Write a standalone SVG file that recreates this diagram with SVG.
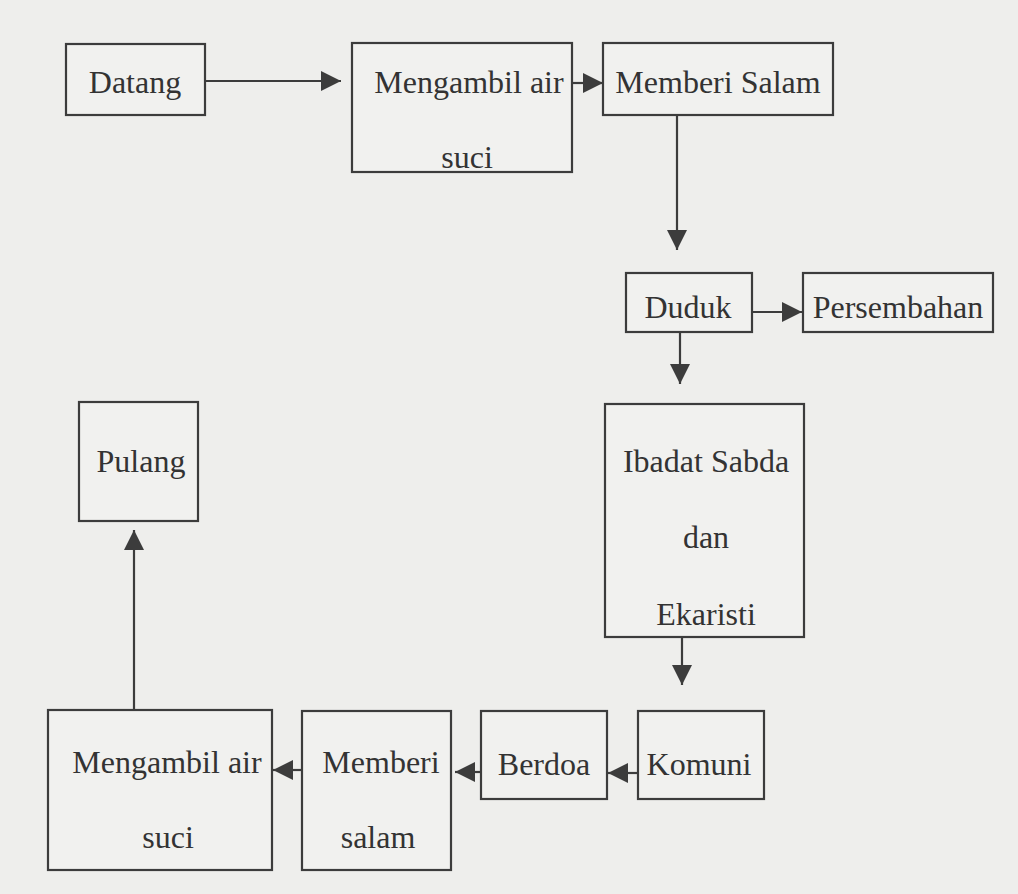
<svg xmlns="http://www.w3.org/2000/svg" width="1018" height="894" viewBox="0 0 1018 894">
<defs>
<style>
.bg{fill:#eeeeec}
.box{fill:#f1f1ef;stroke:#3c3c3c;stroke-width:2.2}
.lbl{font-family:"Liberation Serif","Times New Roman",serif;font-size:32px;fill:#333333;text-anchor:middle}
.con{stroke:#3c3c3c;stroke-width:2.2;fill:none;marker-end:url(#ah)}
</style>
<marker id="ah" viewBox="0 0 20 20" refX="20" refY="10" markerWidth="20" markerHeight="20" markerUnits="userSpaceOnUse" orient="auto">
<path d="M0,0 L20,10 L0,20 z" fill="#3c3c3c"/>
</marker>
</defs>
<rect class="bg" x="0" y="0" width="1018" height="894"/>

<g id="n-datang">
<rect class="box" x="66" y="44" width="139" height="71"/>
<text class="lbl" x="135" y="93">Datang</text>
</g>
<g id="n-mengambil1">
<rect class="box" x="352" y="43" width="220" height="129"/>
<text class="lbl" x="469" y="93">Mengambil air</text>
<text class="lbl" x="467" y="168">suci</text>
</g>
<g id="n-memberisalam">
<rect class="box" x="603" y="43" width="230" height="72"/>
<text class="lbl" x="718" y="93">Memberi Salam</text>
</g>
<g id="n-duduk">
<rect class="box" x="626" y="273" width="126" height="59"/>
<text class="lbl" x="688" y="318">Duduk</text>
</g>
<g id="n-persembahan">
<rect class="box" x="803" y="273" width="190" height="59"/>
<text class="lbl" x="898" y="318">Persembahan</text>
</g>
<g id="n-ibadat">
<rect class="box" x="605" y="404" width="199" height="233"/>
<text class="lbl" x="706" y="472">Ibadat Sabda</text>
<text class="lbl" x="706" y="548">dan</text>
<text class="lbl" x="706" y="625">Ekaristi</text>
</g>
<g id="n-komuni">
<rect class="box" x="638" y="711" width="126" height="88"/>
<text class="lbl" x="699" y="775">Komuni</text>
</g>
<g id="n-berdoa">
<rect class="box" x="481" y="711" width="126" height="88"/>
<text class="lbl" x="544" y="775">Berdoa</text>
</g>
<g id="n-memberi2">
<rect class="box" x="302" y="711" width="149" height="159"/>
<text class="lbl" x="381" y="773">Memberi</text>
<text class="lbl" x="378" y="848">salam</text>
</g>
<g id="n-mengambil2">
<rect class="box" x="48" y="710" width="224" height="160"/>
<text class="lbl" x="167" y="773">Mengambil air</text>
<text class="lbl" x="168" y="848">suci</text>
</g>
<g id="n-pulang">
<rect class="box" x="79" y="402" width="119" height="119"/>
<text class="lbl" x="141" y="472">Pulang</text>
</g>

<g id="connectors">
<line class="con" x1="205" y1="81" x2="341" y2="81"/>
<line class="con" x1="572" y1="83" x2="603" y2="83"/>
<line class="con" x1="677" y1="115" x2="677" y2="250"/>
<line class="con" x1="752" y1="312" x2="802" y2="312"/>
<line class="con" x1="680" y1="332" x2="680" y2="384"/>
<line class="con" x1="682" y1="637" x2="682" y2="685"/>
<line class="con" x1="638" y1="773" x2="608" y2="773"/>
<line class="con" x1="481" y1="772" x2="455" y2="772"/>
<line class="con" x1="302" y1="770" x2="273" y2="770"/>
<line class="con" x1="134" y1="710" x2="134" y2="530"/>
</g>
</svg>
